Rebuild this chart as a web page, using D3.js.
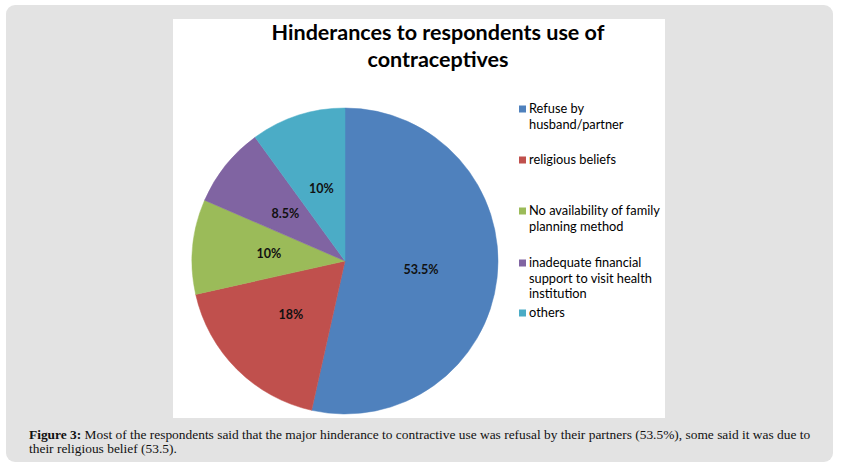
<!DOCTYPE html>
<html>
<head>
<meta charset="utf-8">
<script src="https://cdn.jsdelivr.net/npm/d3@7/dist/d3.min.js"></script>
<style>
  body { margin: 0; background: #fff; }
  svg { display: block; }
</style>
</head>
<body>
<svg id="chart"></svg>
<script>
// data
var categories = ["Refuse by husband/partner", "religious beliefs",
  "No availability of family planning method",
  "inadequate financial support to visit health institution", "others"];
var values = [53.5, 18, 10, 8.5, 10];
var sliceLabels = ["53.5%", "18%", "10%", "8.5%", "10%"];
// legend text, wrapped like the original
var legendLines = [
  ["Refuse by", "husband/partner"],
  ["religious beliefs"],
  ["No availability of family", "planning method"],
  ["inadequate financial", "support to visit health", "institution"],
  ["others"]
];
var titleLines = ["Hinderances to respondents use of", "contraceptives"];
var captionBold = "Figure 3:";
var captionLines = [
  " Most of the respondents said that the major hinderance to contractive use was refusal by their partners (53.5%), some said it was due to",
  "their religious belief (53.5)."
];

var colors = ["#4f81bd", "#c0504d", "#9bbb59", "#8064a2", "#4bacc6"];

var width = 845, height = 466;
var svg = d3.select('#chart')
  .attr('width', width)
  .attr('height', height);

// gray panel + white chart area
svg.append('rect')
  .attr('x', 6).attr('y', 5)
  .attr('width', 827).attr('height', 457)
  .attr('rx', 9)
  .style('fill', '#e3e3e3');

svg.append('rect')
  .attr('x', 173).attr('y', 19)
  .attr('width', 492).attr('height', 399)
  .style('fill', '#fff');

// helper: pick a font size so a string gets a given width
function fitSize(sel, target) {
  var w = sel.node().getComputedTextLength();
  var fs = parseFloat(sel.style('font-size'));
  return fs * target / w;
}

// title
var titleG = svg.append('g');
var t1 = titleG.append('text')
  .attr('x', 438).attr('y', 40)
  .attr('text-anchor', 'middle')
  .style('font-family', 'Lato, "Open Sans", sans-serif')
  .style('font-weight', 'bold')
  .style('font-size', '20px')
  .style('fill', '#000')
  .text(titleLines[0]);
var titleSize = fitSize(t1, 333);
t1.style('font-size', titleSize + 'px');
titleG.append('text')
  .attr('x', 438).attr('y', 67)
  .attr('text-anchor', 'middle')
  .style('font-family', 'Lato, "Open Sans", sans-serif')
  .style('font-weight', 'bold')
  .style('font-size', titleSize + 'px')
  .style('fill', '#000')
  .text(titleLines[1]);

// pie
var radius = 153;
var pieG = svg.append('g')
  .attr('transform', 'translate(345,261)');

var pie = d3.pie().sort(null).value(function (d) { return d; });
var arc = d3.arc().innerRadius(0).outerRadius(radius);
var arcs = pie(values);

pieG.selectAll('path.slice')
  .data(arcs)
  .enter().append('path')
  .attr('class', 'slice')
  .attr('d', arc)
  .style('fill', function (d, i) { return colors[i]; })
  .style('stroke', function (d, i) { return colors[i]; })
  .style('stroke-width', 0.5);

pieG.selectAll('text.lbl')
  .data(arcs)
  .enter().append('text')
  .attr('class', 'lbl')
  .attr('transform', function (d) { return 'translate(' + arc.centroid(d) + ')'; })
  .attr('text-anchor', 'middle')
  .attr('dy', '0.35em')
  .style('font-family', 'Lato, "Open Sans", sans-serif')
  .style('font-weight', 'bold')
  .style('font-size', '12.5px')
  .style('fill', '#111')
  .text(function (d, i) { return sliceLabels[i]; });

// legend
var legendTop = [109, 160, 211, 263, 313];
var lineStep = 15.5;
var legendG = svg.append('g');
var probe = legendG.append('text')
  .style('font-family', 'Lato, "Open Sans", sans-serif')
  .style('font-size', '12px')
  .text(legendLines[2][0]);
var legendSize = fitSize(probe, 131);
probe.remove();

legendLines.forEach(function (lines, i) {
  legendG.append('rect')
    .attr('x', 519).attr('y', legendTop[i] - 3.5)
    .attr('width', 7).attr('height', 7)
    .style('fill', colors[i]);
  var txt = legendG.append('text')
    .style('font-family', 'Lato, "Open Sans", sans-serif')
    .style('font-size', legendSize + 'px')
    .style('fill', '#000');
  lines.forEach(function (l, j) {
    txt.append('tspan')
      .attr('x', 529)
      .attr('y', legendTop[i] + j * lineStep)
      .attr('dy', '0.35em')
      .text(l);
  });
});

// caption
var capFont = '"Liberation Serif", "DejaVu Serif", serif';
var cap1 = svg.append('text')
  .attr('x', 29).attr('y', 439)
  .style('font-family', capFont)
  .style('font-size', '12px')
  .style('fill', '#111');
cap1.append('tspan').style('font-weight', 'bold').text(captionBold);
cap1.append('tspan').text(captionLines[0]);
var capSize = fitSize(cap1, 782);
cap1.style('font-size', capSize + 'px');

svg.append('text')
  .attr('x', 29).attr('y', 453)
  .style('font-family', capFont)
  .style('font-size', capSize + 'px')
  .style('fill', '#111')
  .text(captionLines[1]);
</script>
</body>
</html>
